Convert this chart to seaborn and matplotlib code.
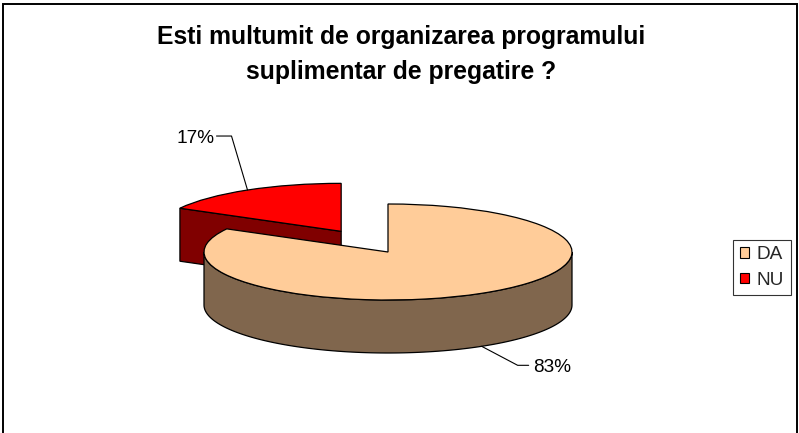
import numpy as np
import matplotlib
matplotlib.use("Agg")
import matplotlib.pyplot as plt
import seaborn as sns
from matplotlib.patches import Polygon, Patch, Rectangle
from matplotlib.lines import Line2D
from matplotlib.transforms import IdentityTransform

# ---------------- data ----------------
title_lines = ["Esti multumit de organizarea programului",
               "suplimentar de pregatire ?"]
categories = ["DA", "NU"]
values = [83, 17]

# ---------------- style ----------------
top_colors = ["#FFCC99", "#FF0000"]
side_colors = ["#80664D", "#800000"]
explode = [0.0, 0.50]

sns.set_theme(style="white")
plt.rcParams["font.family"] = ["Liberation Sans", "DejaVu Sans"]

W, H = 799, 433
fig = plt.figure(figsize=(W / 100, H / 100), dpi=100)
fig.patch.set_facecolor("white")
ax = fig.add_axes([0, 0, 1, 1])

wedges, _ = ax.pie(values, startangle=90, counterclock=False, explode=explode,
                   colors=top_colors,
                   wedgeprops=dict(edgecolor="black", linewidth=0.9))

# pie geometry in pixels: centre (388, 252 from top), radius x 184 px, y 48 px
cx_px, cy_px = 388, 252
rx_px, ry_px = 184, 48
depth_px = 53
ax.set_aspect("auto")
ax.set_xlim(-cx_px / rx_px, (W - cx_px) / rx_px)
ax.set_ylim(-(H - cy_px) / ry_px, cy_px / ry_px)
ax.axis("off")
depth = depth_px / ry_px


def visible_arcs(t1, t2):
    arcs = []
    for k in range(-3, 3):
        lo, hi = 360 * k - 180, 360 * k
        a, b = max(t1, lo), min(t2, hi)
        if b > a:
            arcs.append((a, b))
    return arcs


order = sorted(range(len(wedges)), key=lambda i: -wedges[i].center[1])
z = 1
for i in order:
    w = wedges[i]
    cx, cy = w.center
    r = w.r
    t1, t2 = w.theta1, w.theta2
    side = side_colors[i]
    # radial cut faces
    for ang, nrm in ((t1, t1 - 90), (t2, t2 + 90)):
        if np.sin(np.radians(nrm)) < -1e-6:
            ex = cx + r * np.cos(np.radians(ang))
            ey = cy + r * np.sin(np.radians(ang))
            pts = [(cx, cy), (ex, ey), (ex, ey - depth), (cx, cy - depth)]
            ax.add_patch(Polygon(pts, closed=True, facecolor=side,
                                 edgecolor="black", linewidth=0.9, zorder=z))
    # outer wall
    for a, b in visible_arcs(t1, t2):
        th = np.radians(np.linspace(a, b, 120))
        xs = cx + r * np.cos(th)
        ys = cy + r * np.sin(th)
        pts = list(zip(xs, ys)) + list(zip(xs[::-1], ys[::-1] - depth))
        ax.add_patch(Polygon(pts, closed=True, facecolor=side,
                             edgecolor="black", linewidth=0.9, zorder=z))
    w.set_zorder(z + 1)
    z += 2

# ---------------- percentage labels with leader lines ----------------
total = float(sum(values))
# (elbow dx, dy, line-end dx, text dx, text baseline dy) in pixels, y up
label_offsets = {0: (36, -19, 47, 51, -26), 1: (-16, 54, -31, -33, 47)}
fig.canvas.draw()
for i, w in enumerate(wedges):
    cx, cy = w.center
    bis = np.radians((w.theta1 + w.theta2) / 2)
    ax_pt = (cx + w.r * np.cos(bis), cy + w.r * np.sin(bis))
    if np.sin(bis) < 0:
        ax_pt = (ax_pt[0], ax_pt[1] - depth)
    px, py = ax.transData.transform(ax_pt)
    edx, edy, ldx, tdx, tdy = label_offsets[i]
    line = Line2D([px, px + edx, px + ldx], [py, py + edy, py + edy],
                  color="black", linewidth=0.8, transform=IdentityTransform(),
                  zorder=20)
    fig.add_artist(line)
    fig.text((px + tdx) / W, (py + tdy) / H,
             f"{values[i] / total * 100:.0f}%", fontsize=13.7,
             ha="left" if tdx > 0 else "right", va="baseline", color="black")

# ---------------- title ----------------
fig.text(0.5025, (H - 44) / H, title_lines[0], ha="center", va="baseline",
         fontsize=17.8, fontweight="bold", color="black")
fig.text(0.5025, (H - 79) / H, title_lines[1], ha="center", va="baseline",
         fontsize=17.8, fontweight="bold", color="black")

# ---------------- legend ----------------
handles = [Patch(facecolor=c, edgecolor="black", linewidth=0.8) for c in top_colors]
leg = fig.legend(handles, categories, loc="center left",
                 bbox_to_anchor=(733 / W, (H - 267.5) / H),
                 bbox_transform=fig.transFigure,
                 fontsize=13.7, frameon=True, fancybox=False, shadow=False,
                 handlelength=0.5, handleheight=0.5, handletextpad=0.4,
                 labelspacing=0.45, borderpad=0.35, borderaxespad=0.0)
leg.get_frame().set_edgecolor("black")
leg.get_frame().set_linewidth(0.8)

# ---------------- outer border ----------------
fig.add_artist(Rectangle((3 / W, -0.1), (797 - 3) / W, (H - 4) / H + 0.1,
                         transform=fig.transFigure, fill=False,
                         edgecolor="black", linewidth=1.4, zorder=30))

fig.savefig("out.png", dpi=100)
